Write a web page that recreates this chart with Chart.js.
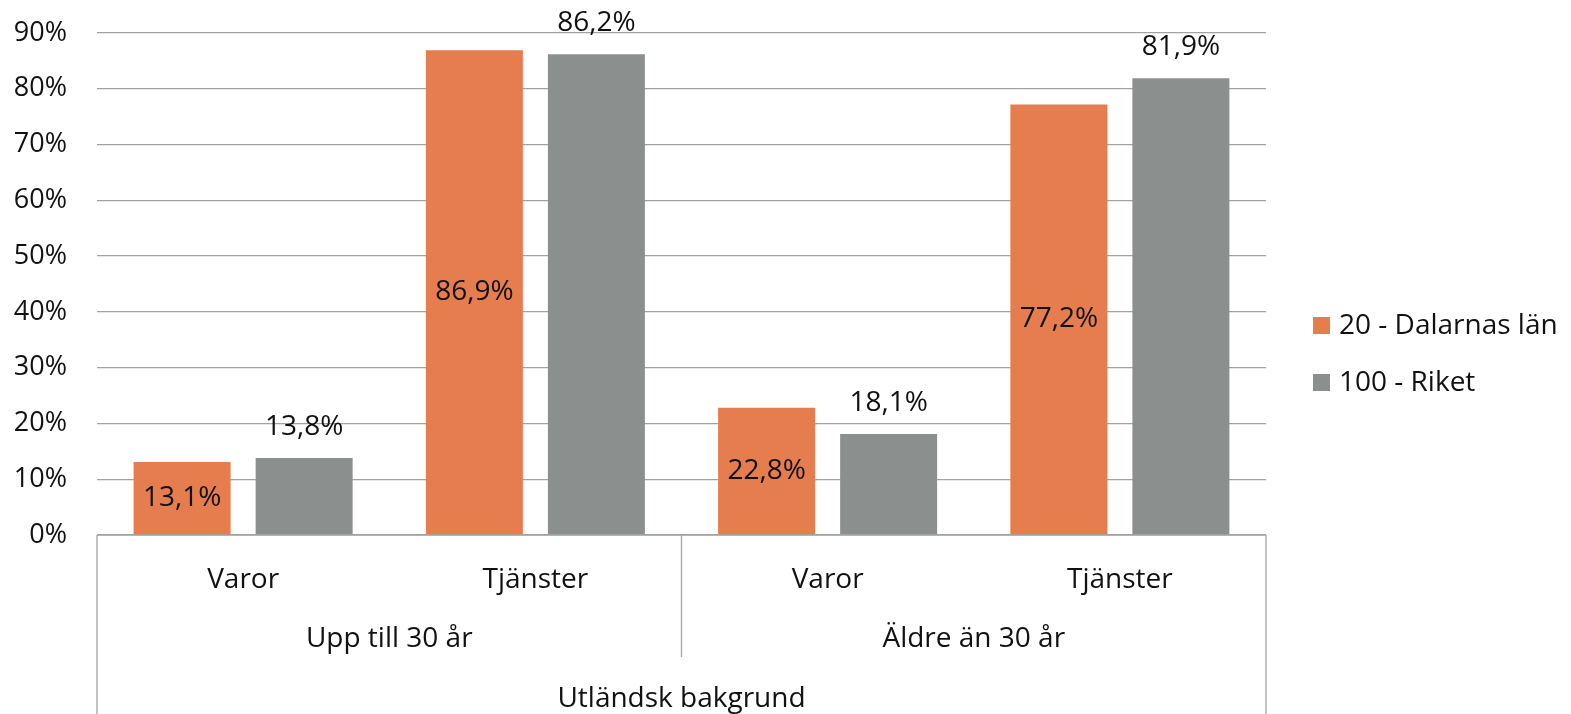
<!DOCTYPE html>
<html>
<head>
<meta charset="utf-8">
<script src="https://cdn.jsdelivr.net/npm/chart.js@4/dist/chart.umd.min.js"></script>
<style>
  html, body { margin: 0; padding: 0; background: #fff; }
</style>
</head>
<body>
<canvas id="chart" width="1571" height="714"></canvas>
<script>
const categories = ['Varor', 'Tjänster', 'Varor', 'Tjänster'];
const groups = ['Upp till 30 år', 'Äldre än 30 år'];
const topGroup = 'Utländsk bakgrund';
const seriesNames = ['20 - Dalarnas län', '100 - Riket'];
const dalarna = [13.1, 86.9, 22.8, 77.2];
const riket = [13.8, 86.2, 18.1, 81.9];
const yMax = 90;
const yStep = 10;

const FONT = '"Open Sans", sans-serif';
const FSIZE = 28;
const ORANGE = '#E67D4F';
const GREY = '#8B908E';
const LINE = '#A3A3A3';

function fmt(v) {
  return v.toFixed(1).replace('.', ',') + '%';
}

// labels on bars: orange centered, grey above
const barLabels = {
  id: 'barLabels',
  afterDatasetsDraw(chart) {
    const ctx = chart.ctx;
    ctx.save();
    ctx.font = FSIZE + 'px ' + FONT;
    ctx.fillStyle = '#111';
    ctx.textAlign = 'center';
    ctx.textBaseline = 'middle';
    chart.data.datasets.forEach((ds, di) => {
      chart.getDatasetMeta(di).data.forEach((bar, i) => {
        let y = di == 0 ? (bar.y + bar.base) / 2 : bar.y - 31;
        ctx.fillText(fmt(ds.data[i]), bar.x, y);
      });
    });
    ctx.restore();
  }
};

// multi level category axis + legend
const axisAndLegend = {
  id: 'axisAndLegend',
  afterDraw(chart) {
    const ctx = chart.ctx;
    const x = chart.scales.x;
    const y0 = chart.chartArea.bottom;
    const H = chart.height;
    ctx.save();
    ctx.strokeStyle = LINE;
    ctx.lineWidth = 1.3;
    const mid = (x.getPixelForValue(1) + x.getPixelForValue(2)) / 2;
    ctx.beginPath();
    ctx.moveTo(x.left, y0); ctx.lineTo(x.right, y0);
    ctx.moveTo(x.left, y0); ctx.lineTo(x.left, H);
    ctx.moveTo(x.right, y0); ctx.lineTo(x.right, H);
    ctx.moveTo(mid, y0); ctx.lineTo(mid, y0 + 122);
    ctx.stroke();

    ctx.font = FSIZE + 'px ' + FONT;
    ctx.fillStyle = '#111';
    ctx.textAlign = 'center';
    ctx.textBaseline = 'middle';
    categories.forEach((c, i) => {
      ctx.fillText(c, x.getPixelForValue(i), y0 + 45);
    });
    groups.forEach((g, gi) => {
      const cx = (x.getPixelForValue(gi * 2) + x.getPixelForValue(gi * 2 + 1)) / 2;
      ctx.fillText(g, cx, y0 + 104);
    });
    ctx.fillText(topGroup, (x.left + x.right) / 2, y0 + 164);

    // legend
    ctx.textAlign = 'left';
    chart.data.datasets.forEach((ds, di) => {
      const ly = 325 + di * 57;
      ctx.fillStyle = ds.backgroundColor;
      ctx.fillRect(1313, ly - 8, 17, 17);
      ctx.fillStyle = '#111';
      ctx.fillText(ds.label, 1339, ly + 1);
    });
    ctx.restore();
  }
};

new Chart(document.getElementById('chart'), {
  type: 'bar',
  data: {
    labels: categories,
    datasets: [
      { label: seriesNames[0], data: dalarna, backgroundColor: ORANGE },
      { label: seriesNames[1], data: riket, backgroundColor: GREY }
    ]
  },
  options: {
    responsive: false,
    devicePixelRatio: 1,
    animation: false,
    layout: { padding: { top: 33, right: 305, left: 0, bottom: 0 } },
    datasets: {
      bar: { categoryPercentage: 0.835, barPercentage: 0.795 }
    },
    plugins: {
      legend: { display: false },
      tooltip: { enabled: false }
    },
    scales: {
      x: {
        grid: { display: false },
        border: { display: false },
        ticks: { display: false },
        afterFit: s => { s.height = 179; }
      },
      y: {
        min: 0,
        max: yMax,
        grid: { color: LINE, lineWidth: 1.3, drawTicks: false },
        border: { display: false },
        ticks: {
          stepSize: yStep,
          padding: 30,
          color: '#111',
          font: { family: FONT, size: 27 },
          callback: v => v + '%'
        },
        afterFit: s => { s.width = 97; s.paddingTop = 0; s.paddingBottom = 0; }
      }
    }
  },
  plugins: [barLabels, axisAndLegend]
});
</script>
</body>
</html>
